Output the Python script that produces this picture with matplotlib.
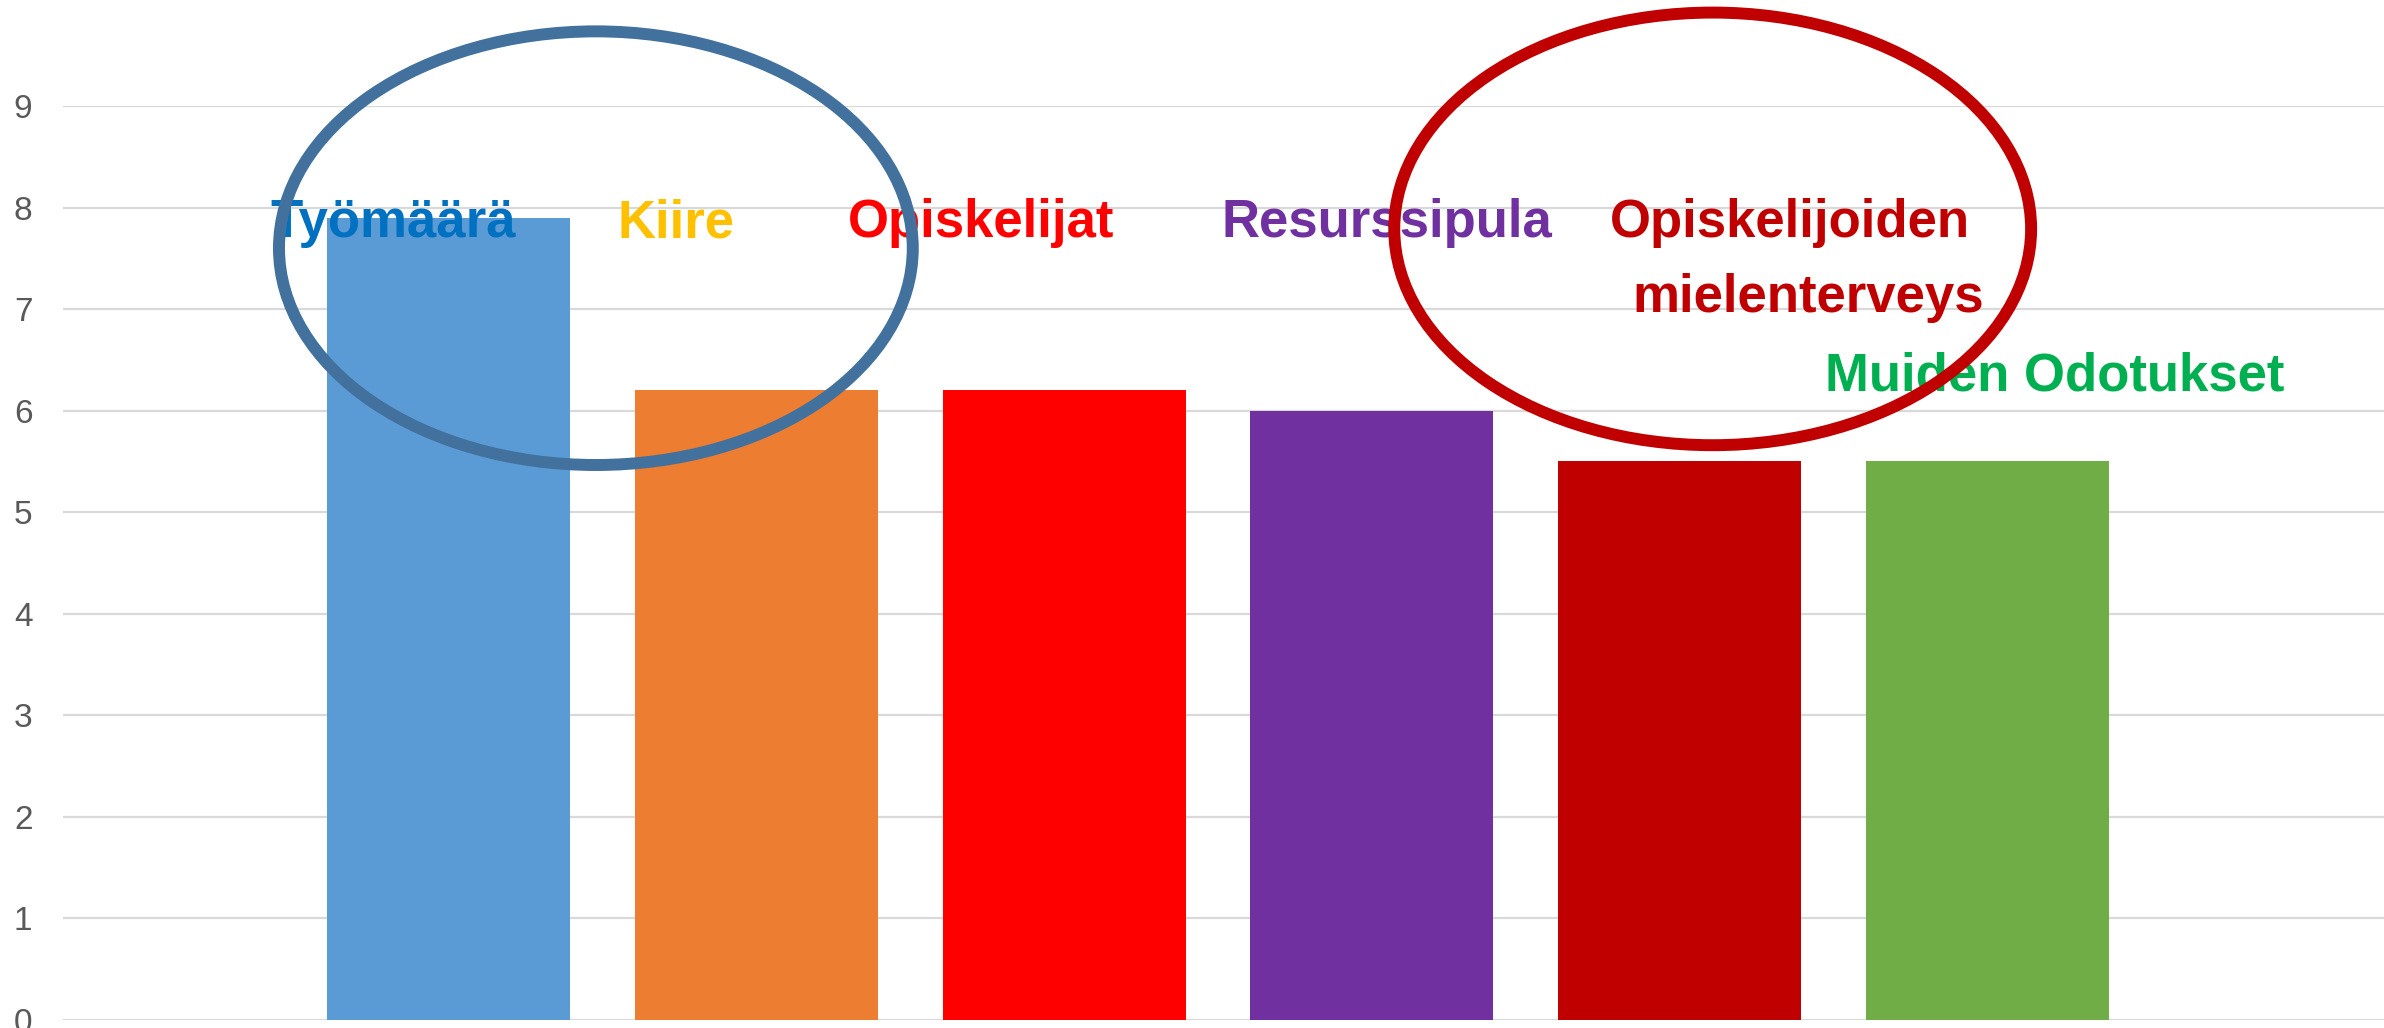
import matplotlib.pyplot as plt
from matplotlib.patches import Ellipse

# data
categories = ["Työmäärä", "Kiire", "Opiskelijat", "Resurssipula",
              "Opiskelijoiden mielenterveys", "Muiden Odotukset"]
values = [7.9, 6.2, 6.2, 6.0, 5.5, 5.5]
bar_colors = ["#5B9BD5", "#ED7D31", "#FF0000", "#7030A0", "#C00000", "#70AD47"]
yticks = list(range(0, 10))

# free-floating labels (text, colour, x, y baseline)
labels = [
    ("Työmäärä", "#0070C0", -0.18, 7.71),
    ("Kiire", "#FFC000", 0.74, 7.71),
    ("Opiskelijat", "#FF0000", 1.73, 7.71),
    ("Resurssipula", "#7030A0", 3.05, 7.71),
    ("Opiskelijoiden", "#C00000", 4.36, 7.71),
    ("mielenterveys", "#C00000", 4.42, 6.97),
    ("Muiden Odotukset", "#00B050", 5.22, 6.20),
]

plt.rcParams["font.family"] = ["Liberation Sans", "DejaVu Sans"]

fig = plt.figure(figsize=(23.84, 10.28), dpi=100)
ax = fig.add_axes([63 / 2384, 8 / 1028, (2384 - 63) / 2384, (1020 - 106) / 1028])

x = list(range(len(values)))
ax.bar(x, values, width=0.79, color=bar_colors, zorder=2)

ax.set_ylim(0, 9)
ax.set_xlim(-1.254, 6.29)
ax.set_yticks(yticks)
ax.set_xticks([])
ax.yaxis.grid(True, color="#D9D9D9", linewidth=1.6, zorder=0)
ax.set_axisbelow(True)
for s in ax.spines.values():
    s.set_visible(False)
ax.tick_params(axis="y", length=0, pad=22, labelsize=24, labelcolor="#595959")

for txt, col, tx, ty in labels:
    ax.text(tx, ty, txt, color=col, fontsize=38, fontweight="bold",
            ha="center", va="baseline", zorder=3)

# hand-drawn highlight ellipses
ax.add_patch(Ellipse((0.478, 7.60), 2.06, 4.27, fill=False, edgecolor="#41719C",
                     linewidth=8.6, clip_on=False, zorder=4))
ax.add_patch(Ellipse((4.108, 7.79), 2.07, 4.26, fill=False, edgecolor="#C00000",
                     linewidth=8.6, clip_on=False, zorder=4))

fig.savefig("out.png", dpi=100)
